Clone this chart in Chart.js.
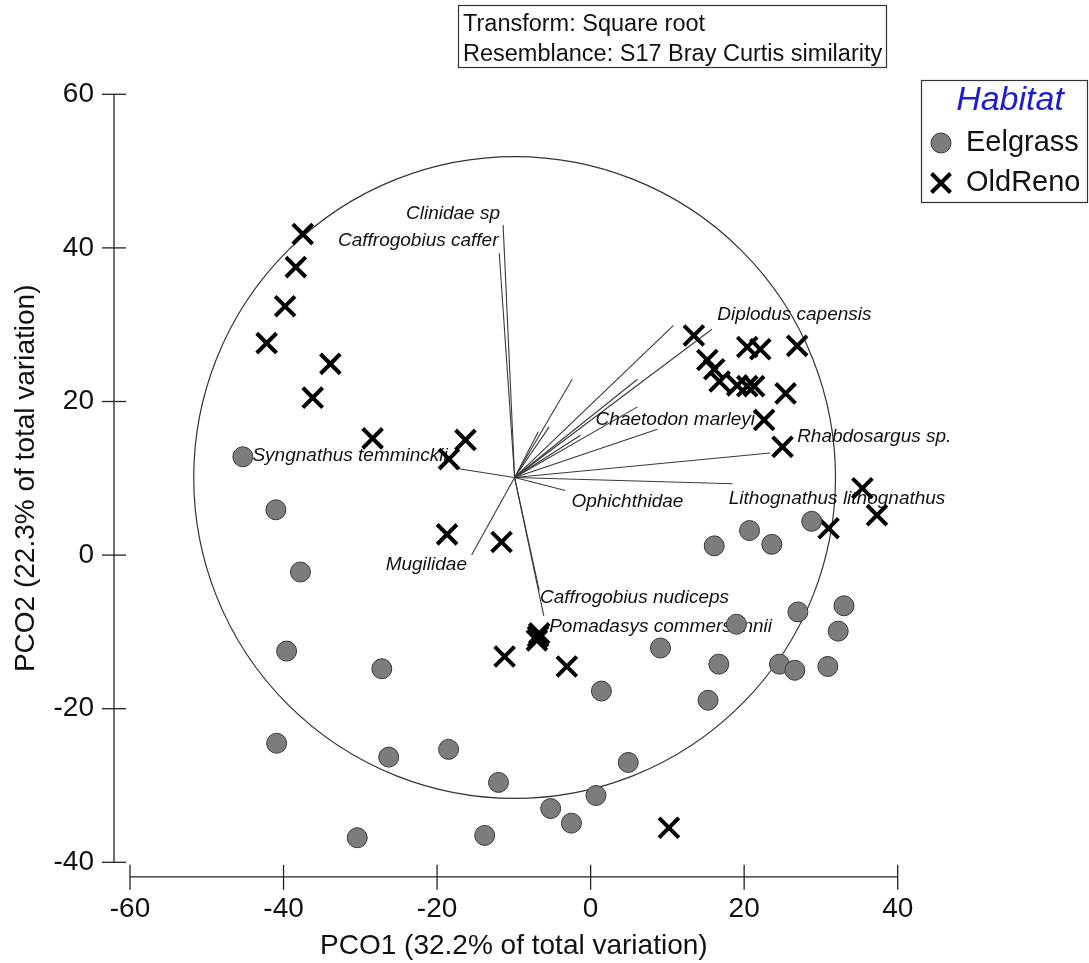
<!DOCTYPE html>
<html><head><meta charset="utf-8">
<script src="https://cdn.jsdelivr.net/npm/chart.js@4/dist/chart.umd.min.js"></script>
<style>html,body{margin:0;padding:0;background:#fff;} canvas{display:block}</style>
</head><body>
<canvas id="c" width="1089" height="963"></canvas>
<script>
// ---- Data ----
const xTicks = [-60, -40, -20, 0, 20, 40];
const yTicks = [-40, -20, 0, 20, 40, 60];
const xTitle = 'PCO1 (32.2% of total variation)';
const yTitle = 'PCO2 (22.3% of total variation)';
const infoLines = ['Transform: Square root', 'Resemblance: S17 Bray Curtis similarity'];
const legendTitle = 'Habitat';
const groups = ['Eelgrass', 'OldReno'];

const eelX = [-45.3, -41.0, -37.8, -39.6, -27.2, -40.9, -26.3, -18.5, -12.0, -5.2, -2.5, 0.7, 4.9, 1.4, -30.4, -13.8, 9.1,
  16.1, 20.7, 23.6, 28.8, 16.7, 19.0, 15.3, 27.0, 33.0, 32.25, 24.6, 26.6, 30.9];
const eelY = [12.8, 5.9, -2.2, -12.5, -14.8, -24.5, -26.3, -25.3, -29.6, -33.0, -34.9, -31.3, -27.0, -17.7, -36.8, -36.5, -12.1,
  1.2, 3.2, 1.4, 4.4, -14.2, -9.0, -18.9, -7.4, -6.6, -9.9, -14.2, -15.0, -14.5];

const oldX = [-37.5, -38.4, -39.8, -42.2, -33.9, -36.2, -28.4, -16.3, -18.45, -18.7, -11.6, -6.7, -7.0, -6.85, -11.2, -3.1, 10.2,
  13.45, 20.4, 22.1, 26.9, 15.2, 16.1, 16.8, 19.1, 20.4, 21.3, 25.4, 22.6, 25.0, 35.4, 37.3, 31.0];
const oldY = [41.8, 37.5, 32.4, 27.6, 24.9, 20.5, 15.2, 15.0, 12.5, 2.7, 1.7, -10.2, -11.1, -10.6, -13.2, -14.5, -35.5,
  28.6, 27.1, 26.8, 27.25, 25.4, 24.2, 22.6, 22.1, 22.0, 22.0, 21.05, 17.6, 14.1, 8.7, 5.2, 3.5];

// vector overlay (species correlations), origin and circle radius in data units
const vecOrigin = [-9.9, 10.1];
const circleR = 41.8;
const vecNames = ['Clinidae sp', 'Caffrogobius caffer', 'Diplodus capensis', 'Chaetodon marleyi', 'Rhabdosargus sp.',
  'Ophichthidae', 'Lithognathus lithognathus', 'Syngnathus temminckii', 'Mugilidae', 'Caffrogobius nudiceps', 'Pomadasys commersonnii'];
const vecX = [-11.4, -11.9, 15.8, 8.7, 23.4, -3.3, 18.5, -17.6, -15.5, -6.7, -6.1];
const vecY = [43.0, 39.3, 29.4, 16.4, 13.3, 8.4, 9.3, 11.3, 0.0, -4.6, -7.9];
// label anchors (data units) and alignment
const labX = [-11.8, -12.0, 16.5, 0.65, 26.9, -2.5, 18.0, -44.05, -26.7, -6.6, -5.4];
const labY = [44.5, 40.9, 31.25, 17.6, 15.4, 6.9, 7.4, 13.0, -1.3, -5.6, -9.3];
const labAlign = ['right', 'right', 'left', 'left', 'left', 'left', 'left', 'left', 'left', 'left', 'left'];
// unlabelled vectors
const extraX = [10.8, -2.4, 6.1, 6.1, -5.4, -6.8, -1.3];
const extraY = [29.9, 22.9, 22.9, 19.3, 16.7, 16.1, 15.6];

const FONT = '"Liberation Sans", Arial, sans-serif';
const TXT = '#111';

const overlay = {
  id: 'overlay',
  beforeDatasetsDraw(chart) {
    const {ctx, scales: {x, y}} = chart;
    const px = v => x.getPixelForValue(v), py = v => y.getPixelForValue(v);
    ctx.save();
    const cx = px(vecOrigin[0]), cy = py(vecOrigin[1]);
    const r = px(vecOrigin[0] + circleR) - cx;
    ctx.strokeStyle = '#333'; ctx.lineWidth = 1.2;
    ctx.beginPath(); ctx.arc(cx, cy, r, 0, Math.PI * 2); ctx.stroke();
    ctx.lineWidth = 1.1; ctx.strokeStyle = '#3a3a3a';
    const all = vecX.map((v, i) => [v, vecY[i]]).concat(extraX.map((v, i) => [v, extraY[i]]));
    all.forEach(([vx, vy]) => {
      ctx.beginPath(); ctx.moveTo(cx, cy); ctx.lineTo(px(vx), py(vy)); ctx.stroke();
    });
    ctx.font = 'italic 19px ' + FONT; ctx.fillStyle = TXT; ctx.textBaseline = 'middle';
    vecNames.forEach((n, i) => {
      ctx.textAlign = labAlign[i];
      ctx.fillText(n, px(labX[i]), py(labY[i]));
    });
    // range-frame axes
    ctx.strokeStyle = '#222'; ctx.lineWidth = 1.3;
    const axX = x.left - 16;
    ctx.beginPath(); ctx.moveTo(axX, py(yTicks[0])); ctx.lineTo(axX, py(yTicks[yTicks.length - 1])); ctx.stroke();
    yTicks.forEach(t => { ctx.beginPath(); ctx.moveTo(axX - 12, py(t)); ctx.lineTo(axX + 12, py(t)); ctx.stroke(); });
    const axY = y.bottom + 14.5;
    ctx.beginPath(); ctx.moveTo(px(xTicks[0]), axY); ctx.lineTo(px(xTicks[xTicks.length - 1]), axY); ctx.stroke();
    xTicks.forEach(t => { ctx.beginPath(); ctx.moveTo(px(t), axY - 12); ctx.lineTo(px(t), axY + 13); ctx.stroke(); });
    ctx.restore();
  },
  afterDraw(chart) {
    const {ctx} = chart;
    ctx.save();
    // info box
    ctx.strokeStyle = '#333'; ctx.lineWidth = 1.2;
    ctx.strokeRect(458.5, 5.5, 428, 62);
    ctx.fillStyle = TXT; ctx.font = '23.5px ' + FONT; ctx.textAlign = 'left'; ctx.textBaseline = 'alphabetic';
    ctx.fillText(infoLines[0], 463, 31);
    ctx.fillText(infoLines[1], 463, 61);
    // legend box
    ctx.strokeRect(921.5, 80.5, 166, 122);
    ctx.font = 'italic 34px ' + FONT; ctx.fillStyle = '#1c1ccc'; ctx.textAlign = 'center'; ctx.textBaseline = 'middle';
    ctx.fillText(legendTitle, 1010, 101);
    ctx.font = '29px ' + FONT; ctx.fillStyle = TXT; ctx.textAlign = 'left';
    ctx.fillText(groups[0], 966, 143);
    ctx.fillText(groups[1], 966, 183);
    ctx.beginPath(); ctx.arc(941, 143, 10, 0, Math.PI * 2);
    ctx.fillStyle = '#7c7c7c'; ctx.fill(); ctx.strokeStyle = '#3a3a3a'; ctx.lineWidth = 1; ctx.stroke();
    ctx.strokeStyle = '#000'; ctx.lineWidth = 4;
    const d = 9.5;
    ctx.beginPath(); ctx.moveTo(941 - d, 183 - d); ctx.lineTo(941 + d, 183 + d);
    ctx.moveTo(941 + d, 183 - d); ctx.lineTo(941 - d, 183 + d); ctx.stroke();
    ctx.restore();
  }
};

new Chart(document.getElementById('c'), {
  type: 'scatter',
  data: {
    datasets: [
      {label: groups[0], data: eelX.map((v, i) => ({x: v, y: eelY[i]})), pointStyle: 'circle', pointRadius: 10,
        backgroundColor: '#7c7c7c', borderColor: '#3a3a3a', borderWidth: 1},
      {label: groups[1], data: oldX.map((v, i) => ({x: v, y: oldY[i]})), pointStyle: 'crossRot', pointRadius: 14,
        backgroundColor: '#000', borderColor: '#000', borderWidth: 4}
    ]
  },
  options: {
    responsive: false, animation: false,
    layout: {padding: {left: 0, right: 191.3, top: 94.3, bottom: 0}},
    plugins: {legend: {display: false}, tooltip: {enabled: false}},
    scales: {
      x: {
        type: 'linear', min: -60, max: 40,
        afterBuildTicks: s => { s.ticks = xTicks.map(v => ({value: v})); },
        afterFit: s => { s.height = 100.7; },
        grid: {display: false, drawTicks: false}, border: {display: false},
        ticks: {font: {family: FONT, size: 28}, color: TXT, padding: 30, maxRotation: 0},
        title: {display: true, text: xTitle, font: {family: FONT, size: 28}, color: TXT, padding: {top: 0, bottom: 0}}
      },
      y: {
        type: 'linear', min: -40, max: 60,
        afterBuildTicks: s => { s.ticks = yTicks.map(v => ({value: v})); },
        afterFit: s => { s.width = 130; },
        grid: {display: false, drawTicks: false}, border: {display: false},
        ticks: {font: {family: FONT, size: 28}, color: TXT, padding: 36},
        title: {display: true, text: yTitle, font: {family: FONT, size: 28}, color: TXT, padding: {top: 9, bottom: 0}}
      }
    }
  },
  plugins: [overlay]
});
</script></body></html>
